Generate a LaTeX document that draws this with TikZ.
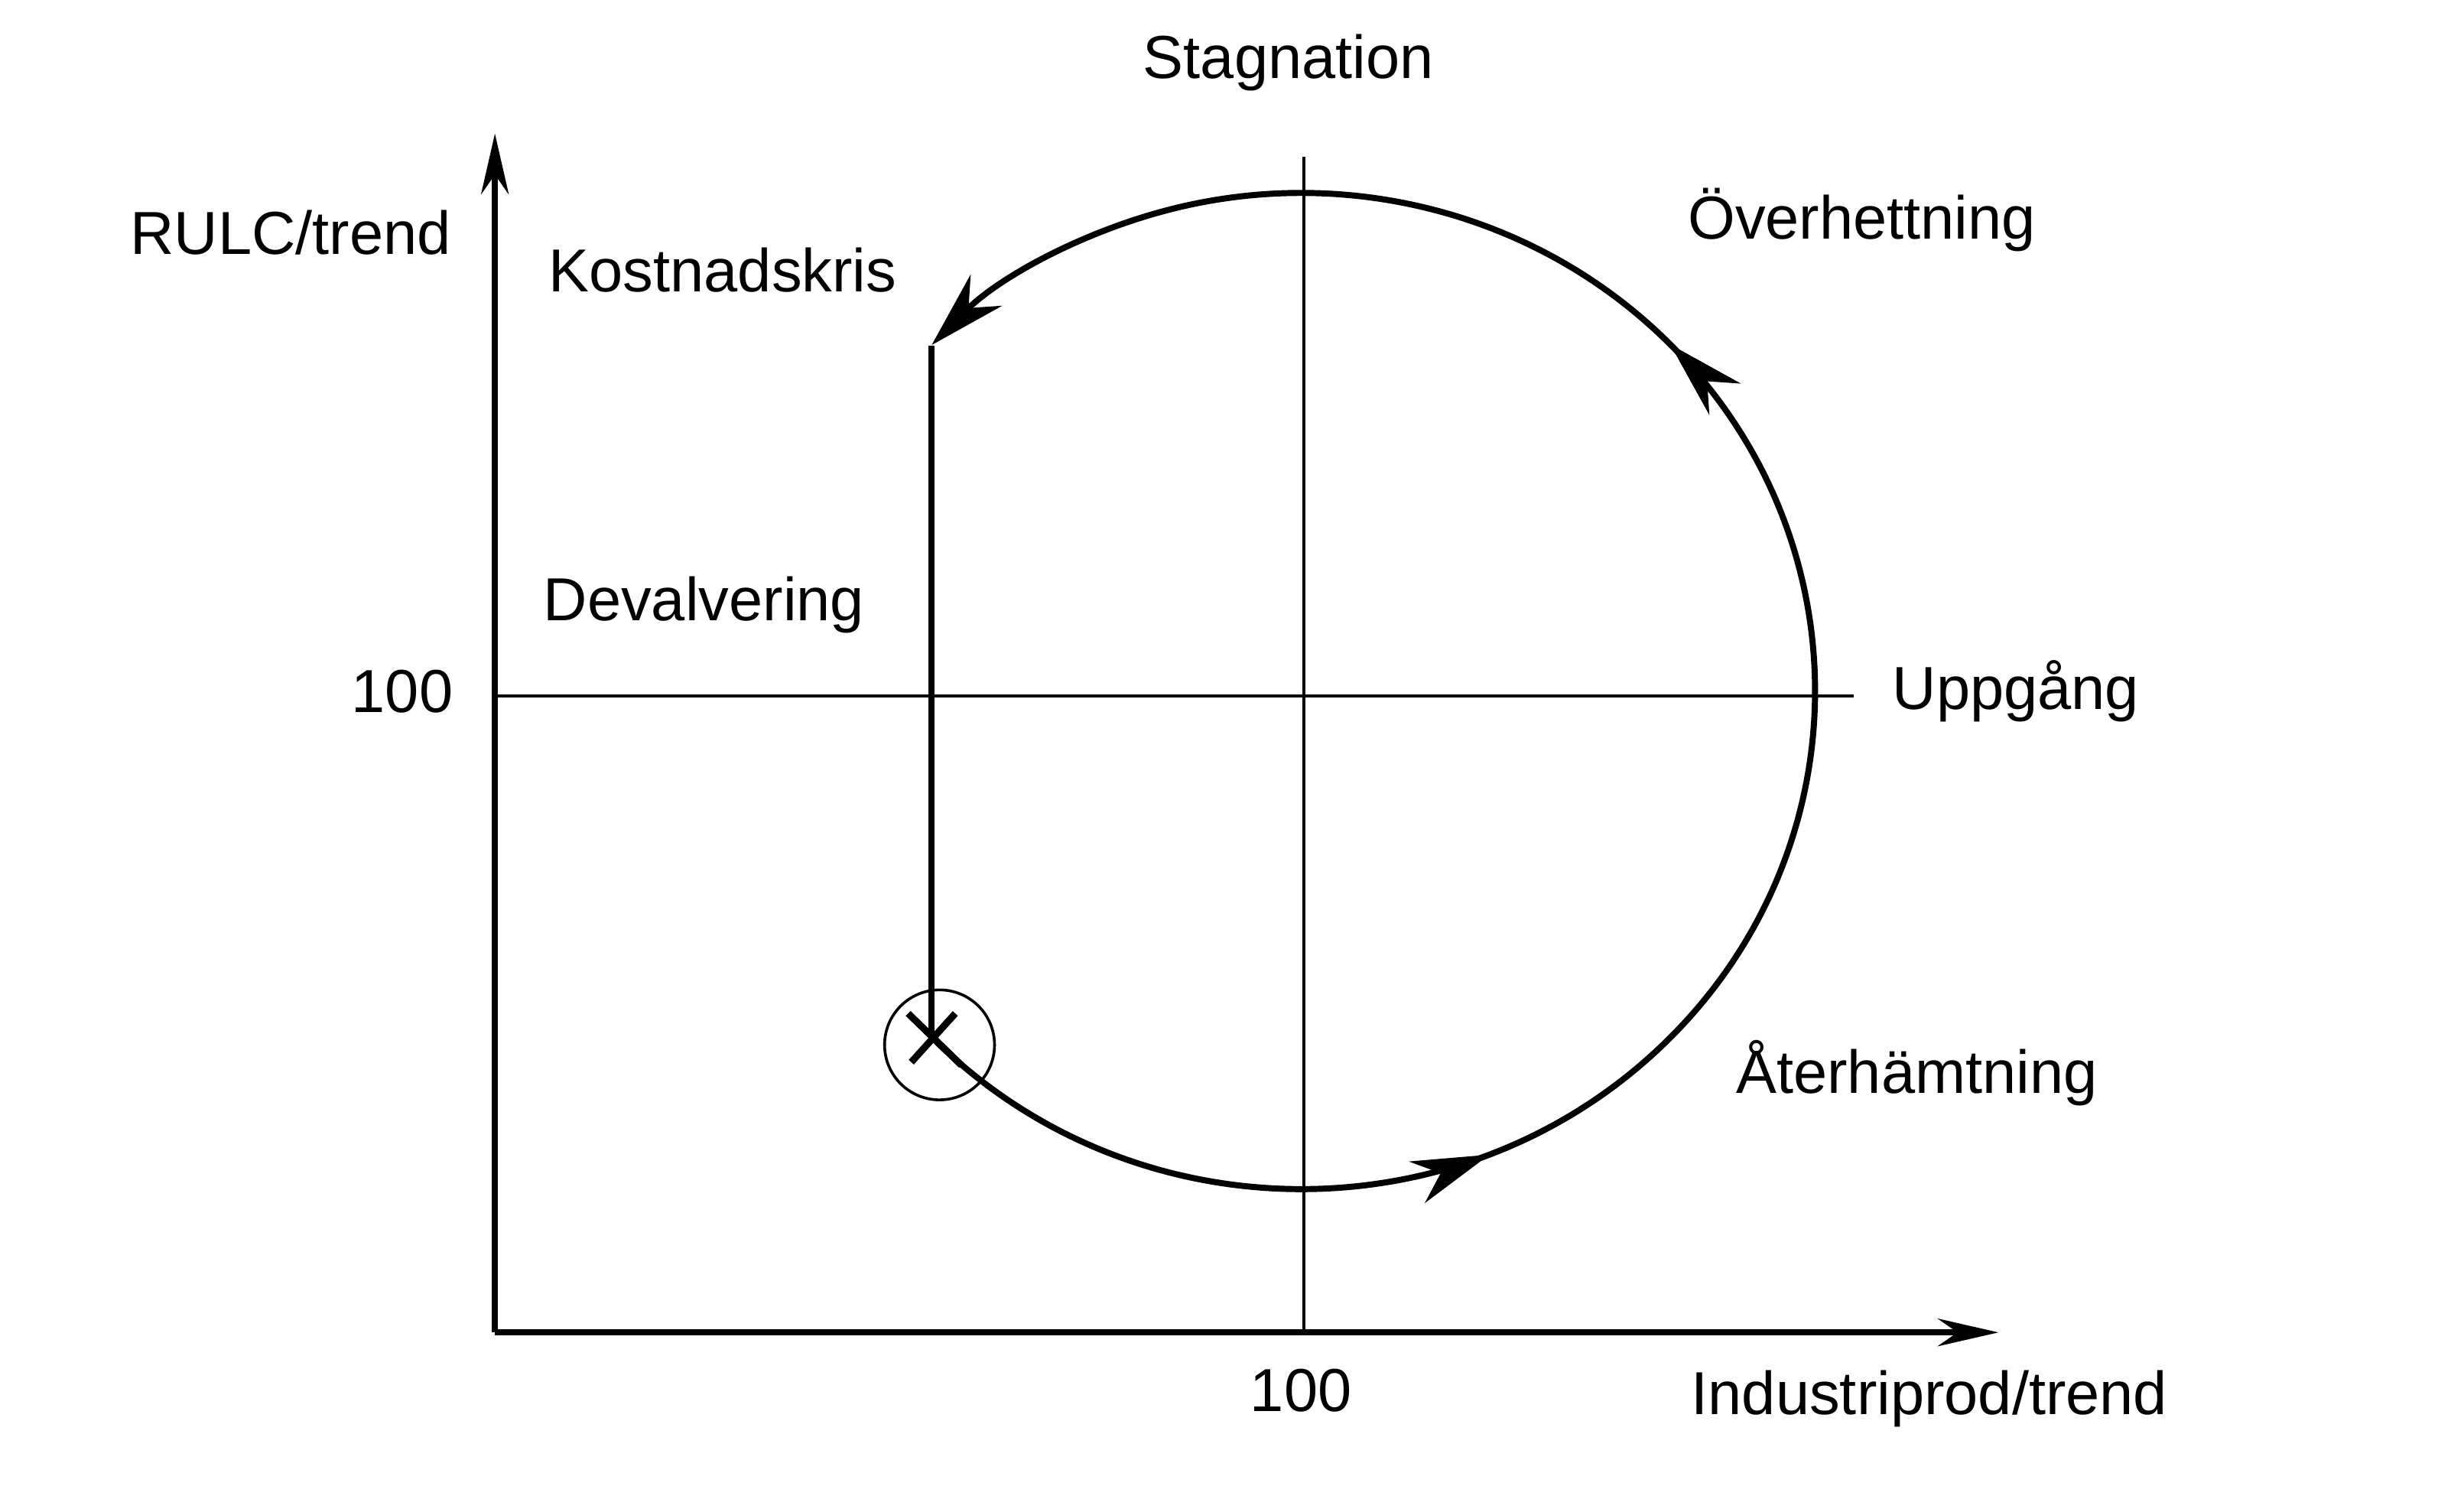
\documentclass[tikz,border=0pt]{standalone}
\usepackage{fontspec}
\setmainfont{Liberation Sans}
\usetikzlibrary{arrows.meta,decorations.markings}

\begin{document}
\begin{tikzpicture}[x=0.02cm,y=-0.02cm,
    lbl/.style={font=\fontsize{22}{25}\selectfont},
    axis/.style={line width=2.2pt,-{Stealth[length=22pt,width=10pt]}},
    cycle/.style={line width=2.2pt,postaction={decorate},
      decoration={markings,
        mark=at position 0.25 with {\arrow{Stealth[length=28pt,width=16pt]}},
        mark=at position 0.66 with {\arrow{Stealth[length=28pt,width=16pt]}}}}]
    \useasboundingbox (0,0) rectangle (1560,962);

    % axes
    \coordinate (origin) at (315,848);
    \coordinate (ytop) at (315,85);
    \coordinate (xend) at (1272,848);
    \draw[axis] (origin) -- (ytop);
    \draw[axis] (origin) -- (xend);

    % cross lines through 100
    \draw[line width=1pt] (830,100) -- (830,848);
    \draw[line width=1pt] (315,443) -- (1180,443);

    % the cycle, from the devaluation point round to the cost crisis
    \coordinate (dev) at (593,660);
    \coordinate (crisis) at (593,220);
    \draw[cycle,-{Stealth[length=28pt,width=16pt]}] (dev)
        arc[start angle=136,end angle=-136,x radius=327,y radius=317];
    \draw[line width=2.2pt] (crisis) -- (dev);

    % devaluation mark
    \node[draw,circle,line width=1pt,minimum size=1.4cm,inner sep=0] (mark) at (598,665) {};
    \draw[line width=2.5pt] (578,645) -- (612,678);
    \draw[line width=2.5pt] (608,645) -- (580,676);

    % labels
    \node[lbl] (stag) at (820,40) {Stagnation};
    \node[lbl] (over) at (1185,140) {Överhettning};
    \node[lbl] (rulc) at (185,148) {RULC/trend};
    \node[lbl] (kost) at (460,172) {Kostnadskris};
    \node[lbl] (deva) at (448,385) {Devalvering};
    \node[lbl] (yhund) at (256,440) {100};
    \node[lbl] (upp) at (1283,440) {Uppgång};
    \node[lbl] (ater) at (1220,683) {Återhämtning};
    \node[lbl] (xhund) at (828,885) {100};
    \node[lbl] (ind) at (1228,890) {Industriprod/trend};
\end{tikzpicture}
\end{document}
